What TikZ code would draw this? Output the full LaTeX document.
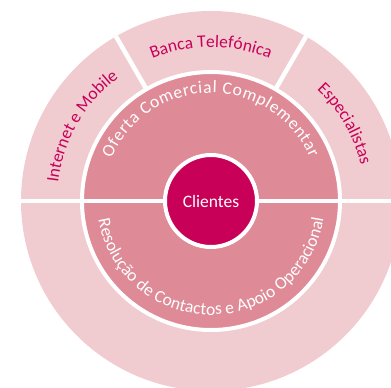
\documentclass[tikz,border=0pt]{standalone}
\usepackage{fontspec}
\setmainfont{Carlito}
\usetikzlibrary{decorations.text}

\definecolor{ringlight}{RGB}{240,204,209}
\definecolor{ringmid}{RGB}{222,138,151}
\definecolor{clientred}{RGB}{200,0,88}
\newcommand{\ringfont}{\fontsize{17.5bp}{21bp}\selectfont}

\tikzset{
	outer text/.style={decorate, decoration={text along path, text={|\ringfont|#1}, text color=clientred, text align=center}},
	inner text/.style={decorate, decoration={text along path, text={|\ringfont|#1}, text color=white, text align=fit to path}},
	gap/.style={draw=white, line width=4.5bp}
}

\begin{document}
\begin{tikzpicture}[x=1bp, y=1bp]
	\useasboundingbox (-211,-187) rectangle (180,201);
	% Rings and the white gaps between them:
	\fill[ringlight] (0,0) circle[radius=190];
	\draw[white, line width=4bp, fill=ringmid] (0,0) circle[radius=129];
	\draw[gap] (180:190) -- (0:190);
	\draw[gap] (60:129) -- (60:190);
	\draw[gap] (120:129) -- (120:190);
	\node[circle, fill=clientred, draw=white, line width=4bp, minimum size=92bp, inner sep=0pt, text=white, font=\ringfont] (clientes) at (0,0) {Clientes};
	% Labels set along the rings:
	\path[outer text={Internet e Mobile}] (178:154) arc[start angle=178, end angle=122, radius=154];
	\path[outer text={Banca Telefónica}] (118:154) arc[start angle=118, end angle=62, radius=154];
	\path[outer text={Especialistas}] (58:154) arc[start angle=58, end angle=2, radius=154];
	\path[inner text={Oferta Comercial Complementar}] (157:108) arc[start angle=157, end angle=23.5, radius=108];
	\path[inner text={Resolução de Contactos e Apoio Operacional}] (189.5:114) arc[start angle=189.5, end angle=351, radius=114];
\end{tikzpicture}
\end{document}
